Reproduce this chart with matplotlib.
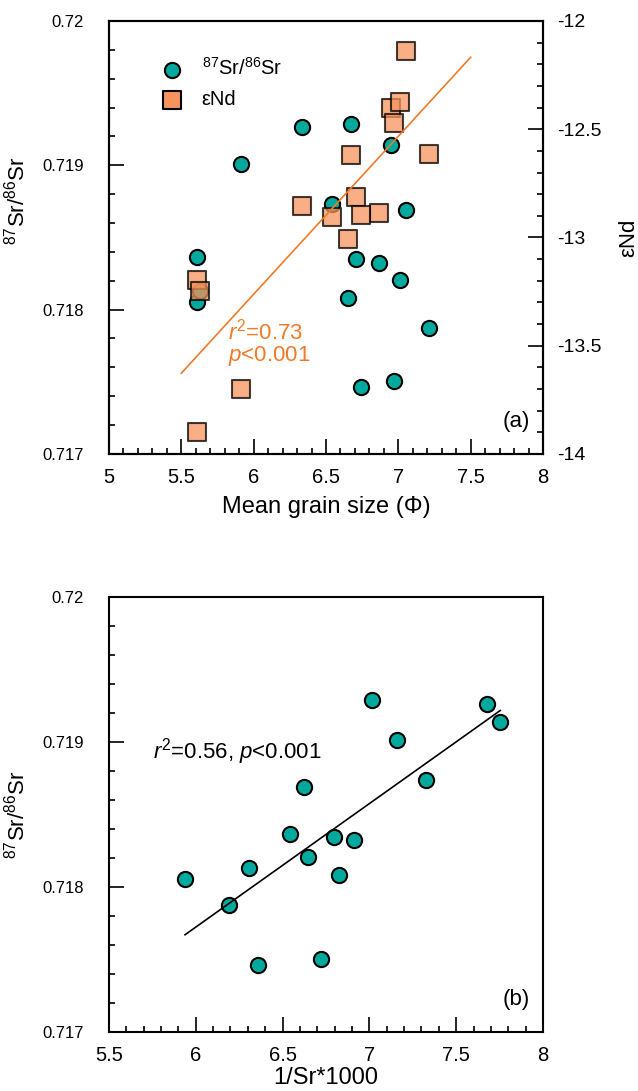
import numpy as np
import matplotlib
matplotlib.use("Agg")
import matplotlib.pyplot as plt
from matplotlib.ticker import MultipleLocator, FuncFormatter

plt.rcParams['font.family'] = ['Liberation Sans', 'DejaVu Sans']
plt.rcParams['mathtext.fontset'] = 'custom'
plt.rcParams['mathtext.rm'] = 'Liberation Sans'
plt.rcParams['mathtext.it'] = 'Liberation Sans:italic'

# samples: mean grain size (phi), 87Sr/86Sr, eNd and 1/Sr*1000
grain_size = [6.333, 6.670, 5.913, 6.951, 6.545, 7.052, 5.606, 6.709,
              6.866, 7.013, 6.649, 5.609, 7.214, 6.739, 6.969, 5.630]
sr_ratio = [0.719264, 0.719287, 0.719012, 0.719139, 0.718735, 0.718689,
            0.718366, 0.718348, 0.718325, 0.718205, 0.718082, 0.718055,
            0.717875, 0.717462, 0.717505, 0.718131]
end_values = [-12.855, -12.618, -13.698, -12.400, -12.906, -12.138,
              -13.197, -12.814, -12.889, -12.374, -13.005, -13.898,
              -12.614, -12.895, -12.471, -13.246]
inv_sr = [7.675, 7.014, 7.160, 7.754, 7.324, 6.626, 6.545, 6.799,
          6.914, 6.647, 6.826, 5.938, 6.190, 6.359, 6.724, 6.309]

teal = '#00A99D'
orange = '#F07A2A'
sq_color = '#F7935C'

fig = plt.figure(figsize=(6.38, 10.91), dpi=100)
ax1 = fig.add_axes([0.1708, 0.5839, 0.6803, 0.3969])
ax2 = fig.add_axes([0.1708, 0.0541, 0.6803, 0.3987])

fmt = FuncFormatter(lambda v, p: '%g' % round(v, 6))
ytick_fs = 12
xtick_fs = 14.5
label_fs = 17


def style_axis(ax, xlim):
    ax.set_xlim(*xlim)
    ax.set_ylim(0.717, 0.72)
    ax.xaxis.set_major_locator(MultipleLocator(0.5))
    ax.xaxis.set_minor_locator(MultipleLocator(0.1))
    ax.yaxis.set_major_locator(MultipleLocator(0.001))
    ax.yaxis.set_minor_locator(MultipleLocator(0.0002))
    ax.xaxis.set_major_formatter(fmt)
    ax.yaxis.set_major_formatter(fmt)
    ax.tick_params(which='both', direction='in', top=False, right=False, width=1.2)
    ax.tick_params(which='major', length=10.5)
    ax.tick_params(which='minor', length=4.5)
    ax.tick_params(axis='y', which='major', pad=18, labelsize=ytick_fs)
    ax.tick_params(axis='x', which='major', pad=10, labelsize=xtick_fs)
    for s in ax.spines.values():
        s.set_linewidth(1.5)


# ---- (a) grain size vs Sr and Nd ----
style_axis(ax1, (5, 8))
h1 = ax1.scatter(grain_size, sr_ratio, s=120, c=teal, edgecolors='black', linewidths=1.5, zorder=2)
ax1b = ax1.twinx()
ax1b.set_ylim(-14, -12)
ax1b.yaxis.set_major_locator(MultipleLocator(0.5))
ax1b.yaxis.set_minor_locator(MultipleLocator(0.1))
ax1b.yaxis.set_major_formatter(fmt)
ax1b.tick_params(which='both', direction='in', width=1.2, labelsize=14, pad=10)
ax1b.tick_params(which='major', length=10.5)
ax1b.tick_params(which='minor', length=4.5)
for s in ax1b.spines.values():
    s.set_linewidth(1.5)
h2 = ax1b.scatter(grain_size, end_values, s=150, marker='s', c=sq_color, edgecolors='black',
                  linewidths=1.5, alpha=0.75, zorder=3)

# linear fit of eNd against grain size
k, b = np.polyfit(grain_size, end_values, 1)
xfit = np.array([5.5, 7.5])
ax1b.plot(xfit, k * xfit + b, color=orange, lw=1.2, zorder=4)
ax1b.text(5.826, -13.49, '$\\mathit{r}^2$=0.73\n$\\mathit{p}$<0.001', color=orange,
          fontsize=16, ha='left', va='center', linespacing=1.0)
ax1.text(0.97, 0.075, '(a)', transform=ax1.transAxes, ha='right', va='center', fontsize=16)

leg = ax1.legend([h1, h2], ['$^{87}$Sr/$^{86}$Sr', 'εNd'], loc='upper left',
                 bbox_to_anchor=(0.1115, 0.917), frameon=False, fontsize=14.5,
                 borderpad=0, borderaxespad=0, handlelength=1.5, handletextpad=0.7,
                 labelspacing=0.55)
leg.legend_handles[1].set_alpha(1)

ax1.set_xlabel('Mean grain size (Φ)', fontsize=label_fs)
ax1.set_ylabel('$^{87}$Sr/$^{86}$Sr', fontsize=16)
ax1b.set_ylabel('εNd', fontsize=16, rotation=90)
ax1.xaxis.set_label_coords(0.5, -0.097)
ax1.yaxis.set_label_coords(-0.184, 0.584)
ax1b.yaxis.set_label_coords(1.173, 0.5)

# ---- (b) 1/Sr vs Sr ----
style_axis(ax2, (5.5, 8))
ax2.scatter(inv_sr, sr_ratio, s=120, c=teal, edgecolors='black', linewidths=1.5, zorder=2)
k2, b2 = np.polyfit(inv_sr, sr_ratio, 1)
xfit2 = np.array([min(inv_sr), max(inv_sr)])
ax2.plot(xfit2, k2 * xfit2 + b2, color='black', lw=1.2, zorder=3)
ax2.text(5.756, 0.718931, '$\\mathit{r}^2$=0.56, $\\mathit{p}$<0.001', fontsize=16,
         ha='left', va='center')
ax2.text(0.97, 0.075, '(b)', transform=ax2.transAxes, ha='right', va='center', fontsize=16)
ax2.set_xlabel('1/Sr*1000', fontsize=label_fs)
ax2.set_ylabel('$^{87}$Sr/$^{86}$Sr', fontsize=16)
ax2.xaxis.set_label_coords(0.5, -0.081)
ax2.yaxis.set_label_coords(-0.184, 0.5)

fig.savefig('out.png', dpi=100)
